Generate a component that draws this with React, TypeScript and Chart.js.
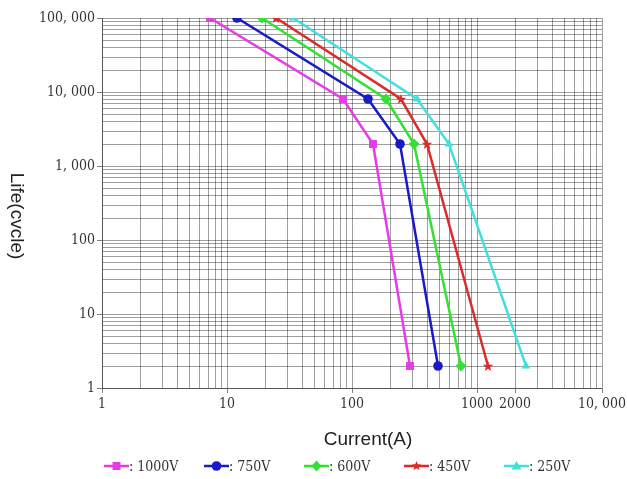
import React, { useEffect, useRef } from "react";
import { Chart, registerables } from "chart.js";

Chart.register(...registerables);

// ---- Data ----
const seriesNames = [": 1000V", ": 750V", ": 600V", ": 450V", ": 250V"];
const seriesColors = ["#e63ce6", "#1a1ac8", "#33e033", "#dd2a2a", "#44dede"];
const seriesMarkers = ["rect", "circle", "rectRot", "star", "triangle"];

const lifeValues = [100000, 8000, 2000, 2];
const current1000V = [7.3, 85, 147, 290];
const current750V = [12, 134, 242, 488];
const current600V = [19, 187, 313, 745];
const current450V = [24.7, 247, 398, 1225];
const current250V = [33.7, 331, 597, 2450];
const seriesCurrents = [current1000V, current750V, current600V, current450V, current250V];

const xTickValues = [1, 10, 100, 1000, 2000, 10000];
const xTickLabels = ["1", "10", "100", "1000", "2000", "10, 000"];
const yTickValues = [1, 10, 100, 1000, 10000, 100000];
const yTickLabels = ["1", "10", "100", "1, 000", "10, 000", "100, 000"];

const xTitle = "Current(A)";
const yTitle = "Life(cvcle)";

const serifFont = "'DejaVu Serif Condensed', 'Liberation Serif', serif";
const sansFont = "'Liberation Sans', Arial, sans-serif";

function logGrid(min: number, max: number): number[] {
  const out: number[] = [];
  for (let e = min; e <= max; e *= 10) {
    for (let m = 1; m <= 9; m++) {
      const v = m * e;
      if (v <= max) out.push(v);
    }
  }
  return out;
}

function starPath(ctx: CanvasRenderingContext2D, cx: number, cy: number, ro: number, ri: number) {
  for (let i = 0; i < 10; i++) {
    const r = i % 2 === 0 ? ro : ri;
    const a = -Math.PI / 2 + (i * Math.PI) / 5;
    const px = cx + r * Math.cos(a);
    const py = cy + r * Math.sin(a);
    if (i === 0) ctx.moveTo(px, py);
    else ctx.lineTo(px, py);
  }
  ctx.closePath();
}

function drawMarker(ctx: CanvasRenderingContext2D, style: string, x: number, y: number, color: string) {
  ctx.save();
  ctx.fillStyle = color;
  ctx.beginPath();
  if (style === "rect") {
    ctx.rect(x - 4, y - 4, 8, 8);
  } else if (style === "circle") {
    ctx.arc(x, y, 4.8, 0, Math.PI * 2);
  } else if (style === "rectRot") {
    ctx.moveTo(x, y - 5.5);
    ctx.lineTo(x + 5, y);
    ctx.lineTo(x, y + 5.5);
    ctx.lineTo(x - 5, y);
    ctx.closePath();
  } else if (style === "star") {
    starPath(ctx, x, y, 5, 2.2);
  } else {
    ctx.moveTo(x, y - 5);
    ctx.lineTo(x + 5, y + 3.5);
    ctx.lineTo(x - 5, y + 3.5);
    ctx.closePath();
  }
  ctx.fill();
  ctx.restore();
}

function makeStar(color: string): HTMLCanvasElement {
  const c = document.createElement("canvas");
  c.width = 12;
  c.height = 12;
  const ctx = c.getContext("2d")!;
  ctx.fillStyle = color;
  ctx.beginPath();
  starPath(ctx, 6, 6.5, 5.5, 2.3);
  ctx.fill();
  return c;
}

const legendPlugin = {
  id: "customLegendAndTitles",
  afterDraw(chart: any) {
    const ctx: CanvasRenderingContext2D = chart.ctx;
    const area = chart.chartArea;
    const step = (area.right - area.left) / seriesNames.length;
    const y = area.bottom + 78;
    ctx.save();
    seriesNames.forEach((name, i) => {
      const x0 = area.left + 2 + i * step;
      const color = seriesColors[i];
      ctx.strokeStyle = color;
      ctx.lineWidth = 2.5;
      ctx.beginPath();
      ctx.moveTo(x0, y);
      ctx.lineTo(x0 + 25, y);
      ctx.stroke();
      drawMarker(ctx, seriesMarkers[i], x0 + 12.5, y, color);
      ctx.fillStyle = "#333";
      ctx.font = `14px ${serifFont}`;
      ctx.textBaseline = "middle";
      ctx.textAlign = "left";
      ctx.fillText(name, x0 + 25, y + 1);
    });

    // axis titles
    ctx.fillStyle = "#222";
    ctx.font = `19px ${sansFont}`;
    ctx.textAlign = "center";
    ctx.textBaseline = "middle";
    ctx.fillText(xTitle, (area.left + area.right) / 2 + 16, area.bottom + 52);
    ctx.translate(16, (area.top + area.bottom) / 2 + 13);
    ctx.rotate(Math.PI / 2);
    ctx.fillText(yTitle, 0, 0);
    ctx.restore();
  },
};

export default function App() {
  const ref = useRef<HTMLCanvasElement | null>(null);

  useEffect(() => {
    if (!ref.current) return;
    const datasets = seriesNames.map((name, i) => {
      const marker = seriesMarkers[i];
      const pointStyle: any = marker === "star" ? makeStar(seriesColors[i]) : marker;
      const radius = marker === "rect" ? 5.6 : marker === "circle" ? 4.8 : marker === "rectRot" ? 5.5 : 5;
      return {
        label: name,
        data: seriesCurrents[i].map((x, j) => ({ x, y: lifeValues[j] })),
        borderColor: seriesColors[i],
        backgroundColor: seriesColors[i],
        borderWidth: 2.5,
        pointStyle,
        pointRadius: radius,
        pointBorderWidth: 0,
        tension: 0,
      };
    });

    const chart = new Chart(ref.current, {
      type: "line",
      data: { datasets },
      plugins: [legendPlugin],
      options: {
        animation: false,
        responsive: true,
        maintainAspectRatio: false,
        layout: { padding: { left: 0, right: 25, top: 18, bottom: 25 } },
        plugins: {
          legend: { display: false },
          tooltip: { enabled: false },
        },
        scales: {
          x: {
            type: "logarithmic",
            min: 1,
            max: 10000,
            alignToPixels: true,
            afterBuildTicks: (scale: any) => {
              scale.ticks = logGrid(1, 10000).map((v) => ({ value: v }));
            },
            afterFit: (scale: any) => {
              scale.height = 66;
              scale.paddingLeft = 0;
              scale.paddingRight = 0;
            },
            ticks: {
              autoSkip: false,
              maxRotation: 0,
              padding: 3,
              color: "#333",
              font: { family: serifFont, size: 14 },
              callback: (v: any) => {
                const idx = xTickValues.indexOf(Number(v));
                return idx >= 0 ? xTickLabels[idx] : "";
              },
            },
            grid: {
              color: "rgba(0,0,0,0.38)",
              lineWidth: 1,
              tickLength: 5,
              tickColor: (c: any) => (xTickValues.indexOf(c.tick?.value) >= 0 ? "rgba(0,0,0,0.5)" : "rgba(0,0,0,0)"),
            },
            border: { display: true, color: "rgba(0,0,0,0.45)" },
            title: { display: false },
          },
          y: {
            type: "logarithmic",
            min: 1,
            max: 100000,
            alignToPixels: true,
            afterBuildTicks: (scale: any) => {
              scale.ticks = logGrid(1, 100000).map((v) => ({ value: v }));
            },
            afterFit: (scale: any) => {
              scale.width = 102;
              scale.paddingTop = 0;
              scale.paddingBottom = 0;
            },
            ticks: {
              autoSkip: false,
              padding: 2,
              color: "#333",
              font: { family: serifFont, size: 14 },
              callback: (v: any) => {
                const idx = yTickValues.indexOf(Number(v));
                return idx >= 0 ? yTickLabels[idx] : "";
              },
            },
            grid: {
              color: "rgba(0,0,0,0.38)",
              lineWidth: 1,
              tickLength: 5,
              tickColor: (c: any) => (yTickValues.indexOf(c.tick?.value) >= 0 ? "rgba(0,0,0,0.5)" : "rgba(0,0,0,0)"),
            },
            border: { display: true, color: "rgba(0,0,0,0.45)" },
            title: { display: false },
          },
        },
      },
    } as any);
    return () => chart.destroy();
  }, []);

  return (
    <div style={{ position: "fixed", left: 0, top: 0, width: 627, height: 479, background: "#fff" }}>
      <canvas ref={ref} />
    </div>
  );
}
